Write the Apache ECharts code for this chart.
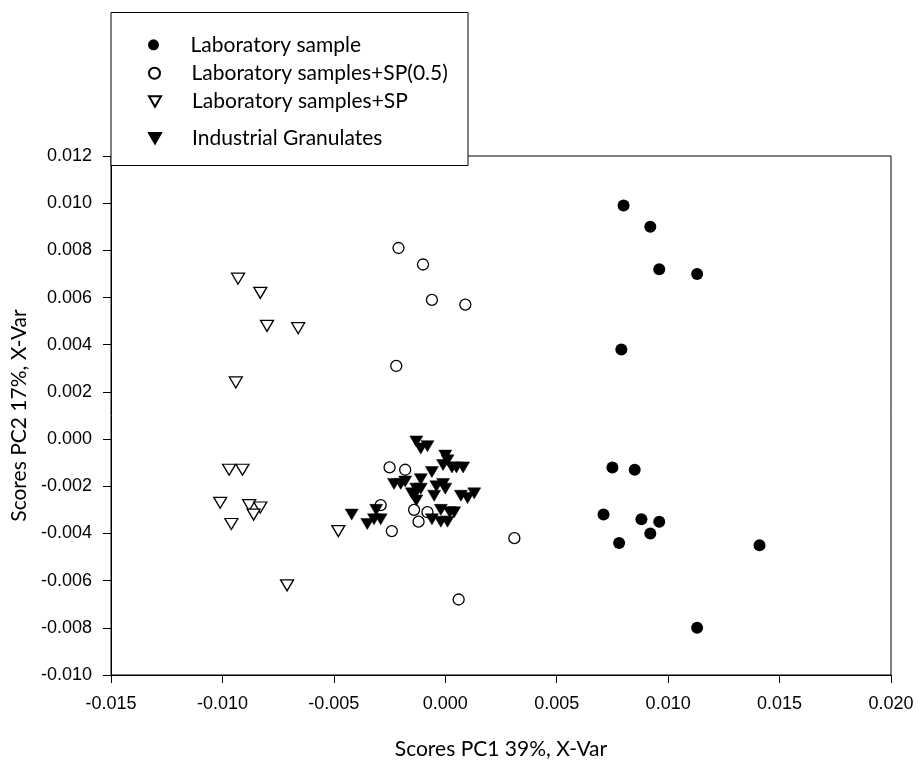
<!DOCTYPE html>
<html>
<head>
<meta charset="utf-8">
<script src="https://cdn.jsdelivr.net/npm/echarts@6/dist/echarts.min.js"></script>
<style>
html,body{margin:0;padding:0;background:#fff;}
#chart{width:918px;height:762px;}
</style>
</head>
<body>
<div id="chart"></div>
<script>
// ---- Data ----
const seriesNames = ['Laboratory sample', 'Laboratory samples+SP(0.5)', 'Laboratory samples+SP', 'Industrial Granulates'];

const labSample = [
  [0.0080, 0.0099], [0.0092, 0.0090], [0.0096, 0.0072], [0.0113, 0.0070], [0.0079, 0.0038],
  [0.0075, -0.0012], [0.0085, -0.0013], [0.0071, -0.0032], [0.0088, -0.0034], [0.0096, -0.0035],
  [0.0092, -0.0040], [0.0078, -0.0044], [0.0141, -0.0045], [0.0113, -0.0080]
];

const labSP05 = [
  [-0.0021, 0.0081], [-0.0010, 0.0074], [-0.0006, 0.0059], [0.0009, 0.0057], [-0.0022, 0.0031],
  [-0.0025, -0.0012], [-0.0018, -0.0013], [-0.0029, -0.0028], [-0.0014, -0.0030], [-0.0008, -0.0031],
  [-0.0012, -0.0035], [-0.0024, -0.0039], [0.0031, -0.0042], [0.0006, -0.0068]
];

const labSP = [
  [-0.0093, 0.0068], [-0.0083, 0.0062], [-0.0080, 0.0048], [-0.0066, 0.0047], [-0.0094, 0.0024],
  [-0.0097, -0.0013], [-0.0091, -0.0013], [-0.0101, -0.0027], [-0.0088, -0.0028], [-0.0083, -0.0029],
  [-0.0086, -0.0032], [-0.0096, -0.0036], [-0.0048, -0.0039], [-0.0071, -0.0062]
];

const industrial = [
  [-0.0013, -0.0001], [-0.0011, -0.0004], [-0.0008, -0.0003], [0.0000, -0.0007], [0.0001, -0.0009],
  [-0.0001, -0.0011], [0.0003, -0.0012], [0.0008, -0.0012], [0.0005, -0.0012], [-0.0006, -0.0014],
  [-0.0011, -0.0017], [-0.0023, -0.0019], [-0.0020, -0.0019], [-0.0018, -0.0018], [-0.0001, -0.0019],
  [0.0000, -0.0021], [-0.0013, -0.0021], [-0.0011, -0.0021], [-0.0014, -0.0024], [-0.0005, -0.0024],
  [0.0007, -0.0024], [0.0013, -0.0023], [0.0010, -0.0025], [-0.0013, -0.0026], [-0.0031, -0.0030],
  [-0.0042, -0.0032], [-0.0035, -0.0036], [-0.0029, -0.0034], [-0.0032, -0.0034], [-0.0002, -0.0030],
  [0.0002, -0.0031], [-0.0006, -0.0034], [-0.0002, -0.0035], [0.0001, -0.0035], [0.0004, -0.0031],
  [-0.0015, -0.0023], [-0.0004, -0.0020]
];

const xTicks = { min: -0.015, max: 0.020, interval: 0.005 };
const yTicks = { min: -0.010, max: 0.012, interval: 0.002 };

const triDown = 'path://M0,0L12,0L6,10.4Z';

const chart = echarts.init(document.getElementById('chart'), null, { renderer: 'canvas' });

const tickFont = { fontFamily: 'Liberation Sans', fontSize: 18, color: '#000' };
const legendFont = { fontFamily: 'Lato', fontSize: 21, color: '#000' };
const titleFont = { fontFamily: 'Lato', fontSize: 21, color: '#000' };

const legendRows = [43.3, 71.7, 100, 136.7];
const legends = seriesNames.map((n, i) => ({
  data: [n],
  left: 143,
  top: legendRows[i] - 14,
  itemWidth: 12,
  itemHeight: 11,
  orient: 'vertical',
  selectedMode: false,
  textStyle: Object.assign({ lineHeight: 21, padding: [0, 0, 0, 26] }, legendFont),
  z: 20
}));

chart.setOption({
  animation: false,
  backgroundColor: '#fff',
  grid: {
    left: 111, right: 27, top: 156, bottom: 87,
    outerBoundsMode: 'none', containLabel: false,
    show: true, borderColor: '#000', borderWidth: 1, backgroundColor: 'transparent'
  },
  legend: legends,
  graphic: [{
    type: 'rect',
    shape: { x: 111, y: 12.5, width: 357, height: 153 },
    style: { fill: '#fff', stroke: '#000', lineWidth: 1 },
    z: 10, zlevel: 0
  }],
  xAxis: {
    type: 'value',
    min: xTicks.min, max: xTicks.max, interval: xTicks.interval,
    name: 'Scores PC1 39%, X-Var',
    nameLocation: 'middle', nameGap: 64,
    nameTextStyle: titleFont,
    axisLine: { show: true, onZero: false, lineStyle: { color: '#000', width: 1 } },
    axisTick: { show: true, inside: false, length: 8, lineStyle: { color: '#000' } },
    axisLabel: Object.assign({ margin: 20, formatter: v => v.toFixed(3) }, tickFont),
    splitLine: { show: false }
  },
  yAxis: {
    type: 'value',
    min: yTicks.min, max: yTicks.max, interval: yTicks.interval,
    name: 'Scores PC2 17%, X-Var',
    nameLocation: 'middle', nameGap: 79,
    nameTextStyle: titleFont,
    axisLine: { show: true, onZero: false, lineStyle: { color: '#000', width: 1 } },
    axisTick: { show: true, inside: false, length: 8, lineStyle: { color: '#000' } },
    axisLabel: Object.assign({ margin: 19, formatter: v => v.toFixed(3) }, tickFont),
    splitLine: { show: false }
  },
  series: [
    {
      name: seriesNames[0], type: 'scatter', data: labSample,
      symbol: 'circle', symbolSize: 12,
      itemStyle: { color: '#000', borderColor: '#000', borderWidth: 0, opacity: 1 }
    },
    {
      name: seriesNames[1], type: 'scatter', data: labSP05,
      symbol: 'circle', symbolSize: 11,
      itemStyle: { color: '#fff', borderColor: '#000', borderWidth: 1.3, opacity: 1 }
    },
    {
      name: seriesNames[2], type: 'scatter', data: labSP,
      symbol: triDown, symbolSize: [13, 11],
      itemStyle: { color: '#fff', borderColor: '#000', borderWidth: 1.3, opacity: 1 }
    },
    {
      name: seriesNames[3], type: 'scatter', data: industrial,
      symbol: triDown, symbolSize: [13, 11],
      itemStyle: { color: '#000', borderColor: '#000', borderWidth: 0.5, opacity: 1 }
    }
  ]
});
</script>
</body>
</html>
